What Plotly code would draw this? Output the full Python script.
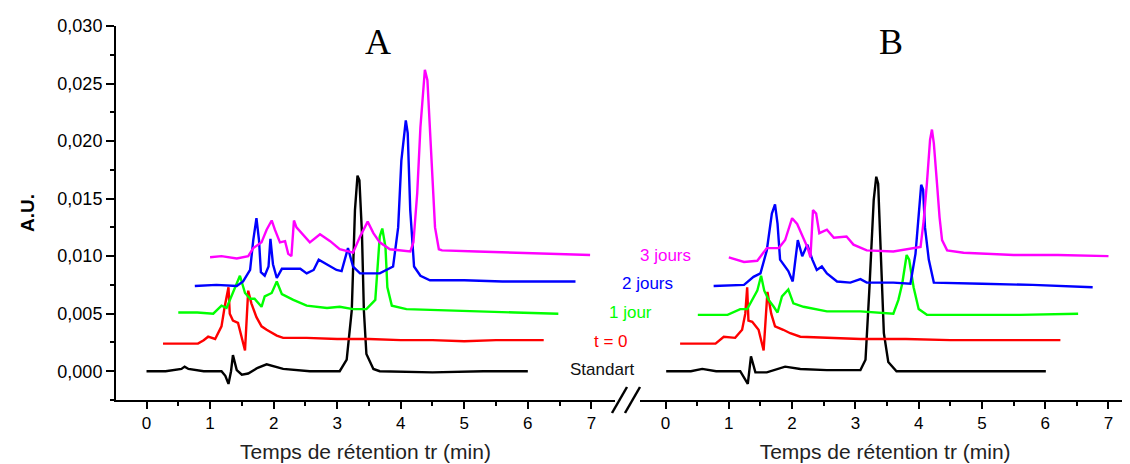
import plotly.graph_objects as go

# ==========================================================
# DATA (offset per sample)
# ==========================================================
LABELS = ["Standart", "t = 0", "1 jour", "2 jours", "3 jours"]
COLORS = ["#000000", "#ff0000", "#00ff00", "#0000ff", "#ff00ff"]

# --- panel A ---
std_a_x = [0.00, 0.30, 0.55, 0.60, 0.66, 0.90, 1.18, 1.24, 1.29, 1.33, 1.36, 1.42, 1.50, 1.60, 1.75, 1.89,
           2.15, 2.57, 3.04, 3.15, 3.23, 3.28, 3.32, 3.35, 3.39, 3.42, 3.46, 3.57, 3.67, 4.50, 5.30, 6.00]
std_a_y = [0.0000, 0.0000, 0.0002, 0.0004, 0.0002, 0.0000, 0.0000, -0.0004, -0.0011, 0.0000, 0.0014, 0.0001,
           -0.0003, -0.0002, 0.0003, 0.0006, 0.0002, 0.0000, 0.0000, 0.0010, 0.0053, 0.0140, 0.0170, 0.0166,
           0.0120, 0.0053, 0.0015, 0.0002, 0.0000, -0.0001, 0.0000, 0.0000]

t0_a_x = [0.26, 0.50, 0.81, 0.90, 0.97, 1.08, 1.18, 1.23, 1.29, 1.31, 1.36, 1.44, 1.50, 1.55, 1.60, 1.65,
          1.73, 1.81, 1.89, 2.05, 2.15, 2.52, 3.00, 3.50, 4.00, 4.50, 5.00, 5.50, 6.00, 6.25]
t0_a_y = [0.0024, 0.0024, 0.0024, 0.0027, 0.0030, 0.0028, 0.0039, 0.0056, 0.0073, 0.0050, 0.0044, 0.0042,
          0.0030, 0.0018, 0.0070, 0.0059, 0.0047, 0.0039, 0.0036, 0.0031, 0.0029, 0.0029, 0.0028, 0.0028,
          0.0027, 0.0027, 0.0026, 0.0027, 0.0027, 0.0027]

j1_a_x = [0.50, 0.80, 1.05, 1.18, 1.26, 1.36, 1.47, 1.55, 1.63, 1.70, 1.81, 1.86, 1.97, 2.05, 2.13, 2.31,
          2.52, 2.84, 3.04, 3.25, 3.46, 3.60, 3.63, 3.67, 3.71, 3.76, 3.79, 3.86, 4.09, 4.60, 5.20, 5.80, 6.48]
j1_a_y = [0.0051, 0.0051, 0.0050, 0.0057, 0.0055, 0.0068, 0.0083, 0.0068, 0.0063, 0.0063, 0.0056, 0.0065,
          0.0068, 0.0078, 0.0067, 0.0062, 0.0057, 0.0055, 0.0056, 0.0054, 0.0054, 0.0062, 0.0085, 0.0117,
          0.0124, 0.0108, 0.0073, 0.0057, 0.0054, 0.0053, 0.0052, 0.0051, 0.0050]

j2_a_x = [0.76, 1.10, 1.42, 1.52, 1.63, 1.68, 1.73, 1.77, 1.80, 1.86, 1.92, 1.95, 1.99, 2.05, 2.13, 2.26,
          2.42, 2.52, 2.63, 2.71, 2.84, 2.99, 3.07, 3.17, 3.25, 3.36, 3.67, 3.88, 3.96, 4.01, 4.08, 4.11,
          4.15, 4.21, 4.31, 4.46, 5.00, 5.60, 6.20, 6.75]
j2_a_y = [0.0074, 0.0075, 0.0074, 0.0078, 0.0088, 0.0114, 0.0133, 0.0114, 0.0086, 0.0083, 0.0091, 0.0115,
          0.0093, 0.0081, 0.0089, 0.0089, 0.0089, 0.0085, 0.0088, 0.0097, 0.0093, 0.0088, 0.0087, 0.0107,
          0.0091, 0.0085, 0.0085, 0.0091, 0.0125, 0.0183, 0.0218, 0.0207, 0.0140, 0.0091, 0.0083, 0.0079,
          0.0079, 0.0078, 0.0078, 0.0078]

j3_a_x = [1.00, 1.18, 1.42, 1.60, 1.68, 1.81, 1.89, 1.97, 2.02, 2.10, 2.18, 2.23, 2.28, 2.32, 2.36, 2.44,
          2.57, 2.73, 2.89, 3.04, 3.25, 3.36, 3.48, 3.57, 3.67, 3.83, 4.15, 4.20, 4.26, 4.31, 4.38, 4.42,
          4.49, 4.54, 4.60, 4.65, 5.20, 5.80, 6.40, 6.98]
j3_a_y = [0.0099, 0.0100, 0.0098, 0.0100, 0.0107, 0.0112, 0.0123, 0.0131, 0.0123, 0.0112, 0.0113, 0.0102,
          0.0100, 0.0131, 0.0125, 0.0120, 0.0112, 0.0119, 0.0113, 0.0106, 0.0103, 0.0117, 0.0130, 0.0120,
          0.0112, 0.0106, 0.0104, 0.0112, 0.0155, 0.0212, 0.0262, 0.0253, 0.0175, 0.0125, 0.0106, 0.0105,
          0.0104, 0.0103, 0.0102, 0.0101]

# --- panel B ---
std_b_x = [0.01, 0.40, 0.58, 0.80, 1.18, 1.30, 1.35, 1.42, 1.60, 1.89, 2.13, 2.55, 3.08, 3.16, 3.22, 3.29,
           3.33, 3.36, 3.40, 3.45, 3.52, 3.65, 4.50, 5.30, 6.01]
std_b_y = [0.0000, 0.0000, 0.0002, 0.0000, 0.0000, -0.0011, 0.0013, -0.0001, -0.0001, 0.0004, 0.0002,
           0.0001, 0.0001, 0.0010, 0.0070, 0.0149, 0.0169, 0.0163, 0.0105, 0.0033, 0.0008, 0.0000, 0.0000,
           0.0000, 0.0000]

t0_b_x = [0.23, 0.79, 0.92, 1.10, 1.21, 1.26, 1.29, 1.31, 1.37, 1.47, 1.55, 1.61, 1.67, 1.73, 1.86, 1.97,
          2.13, 2.55, 3.08, 3.80, 4.50, 5.20, 5.80, 6.24]
t0_b_y = [0.0024, 0.0024, 0.0030, 0.0029, 0.0036, 0.0050, 0.0073, 0.0044, 0.0043, 0.0036, 0.0018, 0.0069,
          0.0050, 0.0039, 0.0036, 0.0033, 0.0030, 0.0029, 0.0028, 0.0028, 0.0027, 0.0027, 0.0027, 0.0027]

j1_b_x = [0.51, 0.98, 1.18, 1.29, 1.45, 1.51, 1.56, 1.63, 1.71, 1.77, 1.84, 1.94, 2.02, 2.18, 2.55, 3.08,
          3.60, 3.68, 3.74, 3.81, 3.85, 3.92, 4.00, 4.13, 4.80, 5.60, 6.52]
j1_b_y = [0.0049, 0.0049, 0.0054, 0.0054, 0.0070, 0.0083, 0.0070, 0.0062, 0.0056, 0.0051, 0.0065, 0.0071,
          0.0059, 0.0056, 0.0052, 0.0052, 0.0050, 0.0062, 0.0076, 0.0101, 0.0097, 0.0073, 0.0054, 0.0049,
          0.0049, 0.0049, 0.0050]

j2_b_x = [0.76, 1.24, 1.39, 1.50, 1.60, 1.68, 1.73, 1.77, 1.81, 1.94, 2.01, 2.09, 2.16, 2.24, 2.32, 2.39,
          2.47, 2.55, 2.71, 2.92, 3.08, 3.18, 3.60, 3.87, 3.95, 4.00, 4.04, 4.07, 4.10, 4.16, 4.24, 5.00,
          5.80, 6.75]
j2_b_y = [0.0074, 0.0075, 0.0082, 0.0085, 0.0105, 0.0137, 0.0145, 0.0128, 0.0097, 0.0087, 0.0078, 0.0114,
          0.0100, 0.0110, 0.0097, 0.0088, 0.0091, 0.0085, 0.0078, 0.0077, 0.0080, 0.0077, 0.0077, 0.0076,
          0.0102, 0.0140, 0.0162, 0.0158, 0.0125, 0.0097, 0.0077, 0.0076, 0.0075, 0.0073]

j3_b_x = [1.00, 1.24, 1.45, 1.60, 1.79, 1.89, 2.00, 2.08, 2.16, 2.24, 2.29, 2.33, 2.38, 2.43, 2.55, 2.66,
          2.86, 2.97, 3.18, 3.60, 4.03, 4.08, 4.13, 4.18, 4.21, 4.24, 4.29, 4.33, 4.37, 4.45, 4.71, 5.50,
          6.20, 7.00]
j3_b_y = [0.0099, 0.0095, 0.0096, 0.0107, 0.0107, 0.0114, 0.0133, 0.0128, 0.0118, 0.0108, 0.0099, 0.0140,
          0.0137, 0.0120, 0.0123, 0.0116, 0.0117, 0.0110, 0.0105, 0.0104, 0.0108, 0.0131, 0.0163, 0.0201,
          0.0210, 0.0198, 0.0163, 0.0134, 0.0114, 0.0105, 0.0103, 0.0101, 0.0101, 0.0100]

X_TICKS = [0, 1, 2, 3, 4, 5, 6, 7]
Y_TICKS = [0.000, 0.005, 0.010, 0.015, 0.020, 0.025, 0.030]

panel_a = [(std_a_x, std_a_y), (t0_a_x, t0_a_y), (j1_a_x, j1_a_y), (j2_a_x, j2_a_y), (j3_a_x, j3_a_y)]
panel_b = [(std_b_x, std_b_y), (t0_b_x, t0_b_y), (j1_b_x, j1_b_y), (j2_b_x, j2_b_y), (j3_b_x, j3_b_y)]

SANS = "Liberation Sans, Arial, sans-serif"
SERIF = "Liberation Serif, Times New Roman, serif"

# page has an 8px body margin -> figure is 1122x456, plot box spans page x 116..1130, y 26..400
PL, PT, PW, PH = 116, 26, 1014, 374


def px2paper(px, py):
    return (px - PL) / PW, (PT + PH - py) / PH


# ==========================================================
# PLOT
# ==========================================================
fig = go.Figure()

for (xs, ys), col in zip(panel_a, COLORS):
    fig.add_trace(go.Scatter(x=xs, y=ys, mode="lines", line=dict(color=col, width=2.4),
                             xaxis="x", yaxis="y", showlegend=False))

for (xs, ys), col in zip(panel_b, COLORS):
    fig.add_trace(go.Scatter(x=xs, y=ys, mode="lines", line=dict(color=col, width=2.4),
                             xaxis="x2", yaxis="y", showlegend=False))

xaxis_style = dict(
    showline=True, linecolor="black", linewidth=2,
    ticks="outside", ticklen=7, tickwidth=2, tickcolor="black",
    tickvals=X_TICKS, tickfont=dict(family=SANS, size=17, color="black"),
    minor=dict(dtick=0.5, ticks="outside", ticklen=4, tickwidth=2, tickcolor="black"),
    showgrid=False, zeroline=False, anchor="y",
    title=dict(text="Temps de rétention tr (min)", font=dict(family=SANS, size=21, color="#222"),
               standoff=12),
)

fig.update_layout(
    width=1122, height=456,
    margin=dict(l=PL - 8, r=0, t=PT - 8, b=456 - (PT - 8) - PH),
    paper_bgcolor="white", plot_bgcolor="white",
    separators=", ",
    xaxis=dict(domain=[0, 0.492], range=[-0.48, 7.37], **xaxis_style),
    xaxis2=dict(domain=[0.517, 1], range=[-0.40, 7.34], **xaxis_style),
    yaxis=dict(
        range=[-0.0025, 0.030], anchor="x",
        showline=True, linecolor="black", linewidth=2,
        ticks="outside", ticklen=8, tickwidth=2, tickcolor="black",
        tickvals=Y_TICKS, tickformat=".3f",
        tickfont=dict(family=SANS, size=18, color="black"),
        minor=dict(dtick=0.0025, ticks="outside", ticklen=4, tickwidth=2, tickcolor="black"),
        showgrid=False, zeroline=False,
        title=dict(text="<b>A.U.</b>", font=dict(family=SANS, size=19, color="black"), standoff=18),
    ),
)

# panel letters
for letter, (px, py) in [("A", (378, 42)), ("B", (891, 42))]:
    ax, ay = px2paper(px, py)
    fig.add_annotation(text=letter, x=ax, y=ay, xref="paper", yref="paper", showarrow=False,
                       xanchor="center", yanchor="middle",
                       font=dict(family=SERIF, size=36, color="black"))

# sample labels between the panels
label_pos = [(602, 369), (611, 341), (630, 312), (647, 283), (665, 255)]
for txt, col, (px, py) in zip(LABELS, COLORS, label_pos):
    ax, ay = px2paper(px, py)
    fig.add_annotation(text=txt, x=ax, y=ay, xref="paper", yref="paper", showarrow=False,
                       xanchor="center", yanchor="middle",
                       font=dict(family=SANS, size=17, color=col if col != "#000000" else "#111"))

# axis break marks "//"
for x0, x1 in [(612, 627), (625, 640)]:
    bx0, by0 = px2paper(x0, 413)
    bx1, by1 = px2paper(x1, 387)
    fig.add_shape(type="line", xref="paper", yref="paper", x0=bx0, y0=by0, x1=bx1, y1=by1,
                  line=dict(color="black", width=2.5))

fig.write_html("out.html")
